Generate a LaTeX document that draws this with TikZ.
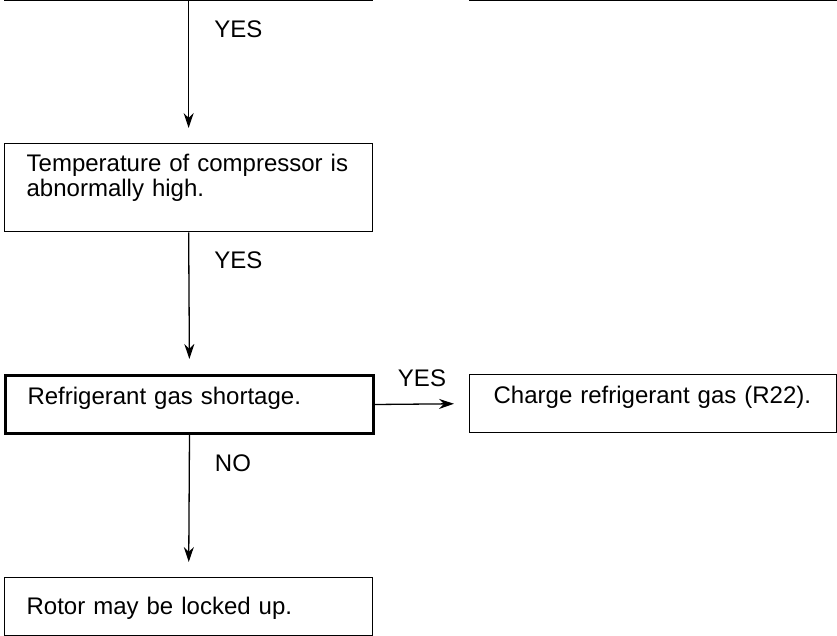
\documentclass[tikz,border=0pt]{standalone}
\usepackage{fontspec}
\setmainfont{Liberation Sans}
\usetikzlibrary{positioning,arrows.meta}
\tikzset{
  >={Stealth[length=7.5pt,width=5pt]},
  chkbox/.style={draw=black,line width=0.65pt,anchor=north west,
    inner xsep=11pt,inner ysep=0pt,text width=162pt,align=left,
    font=\fontsize{12}{12.5}\selectfont},
  keybox/.style={chkbox,line width=1.5pt},
  cutbox/.style={draw=black,line width=0.65pt,anchor=south west,
    minimum width=184pt,minimum height=40pt,inner sep=0pt},
  flow/.style={->,line width=0.65pt,shorten >=7.5pt},
  flowlbl/.style={font=\fontsize{12}{14}\selectfont,inner sep=0pt},
}
\begin{document}
\begin{tikzpicture}[x=0.5pt,y=-0.5pt]
  \useasboundingbox (0,0) rectangle (837,636);
  \clip (0,0) rectangle (837,636);
  % boxes of the step above, cut off by the page
  \node[cutbox] (prevL) at (4,1) {};
  \node[cutbox] (prevR) at (469,1) {};
  \node[chkbox,text height=14pt,text depth=30pt] (temp) at (4,143)
    {Temperature of compressor is\\abnormally high.};
  \node[keybox,text height=14.5pt,text depth=14.5pt] (gas) at (4,374)
    {Refrigerant gas shortage.};
  \node[chkbox,inner xsep=12pt,text width=159.5pt,text height=14.5pt,
    text depth=14.5pt] (charge) at (469,374) {Charge refrigerant gas (R22).};
  \node[chkbox,text height=18.5pt,text depth=10.5pt] (rotor) at (4,577)
    {Rotor may be locked up.};

  \draw[flow] (prevL.south) -- node[flowlbl,pos=0.2,anchor=west,xshift=12.5pt] {YES} (temp.north);
  \draw[flow] (temp.south) -- node[flowlbl,pos=0.2,anchor=west,xshift=12.5pt] {YES} (gas.north);
  \draw[flow] (gas.east) -- node[flowlbl,midway,above=8.5pt] {YES} (charge.west);
  \draw[flow] (gas.south) -- node[flowlbl,pos=0.2,anchor=west,xshift=12.5pt] {NO} (rotor.north);
\end{tikzpicture}
\end{document}
